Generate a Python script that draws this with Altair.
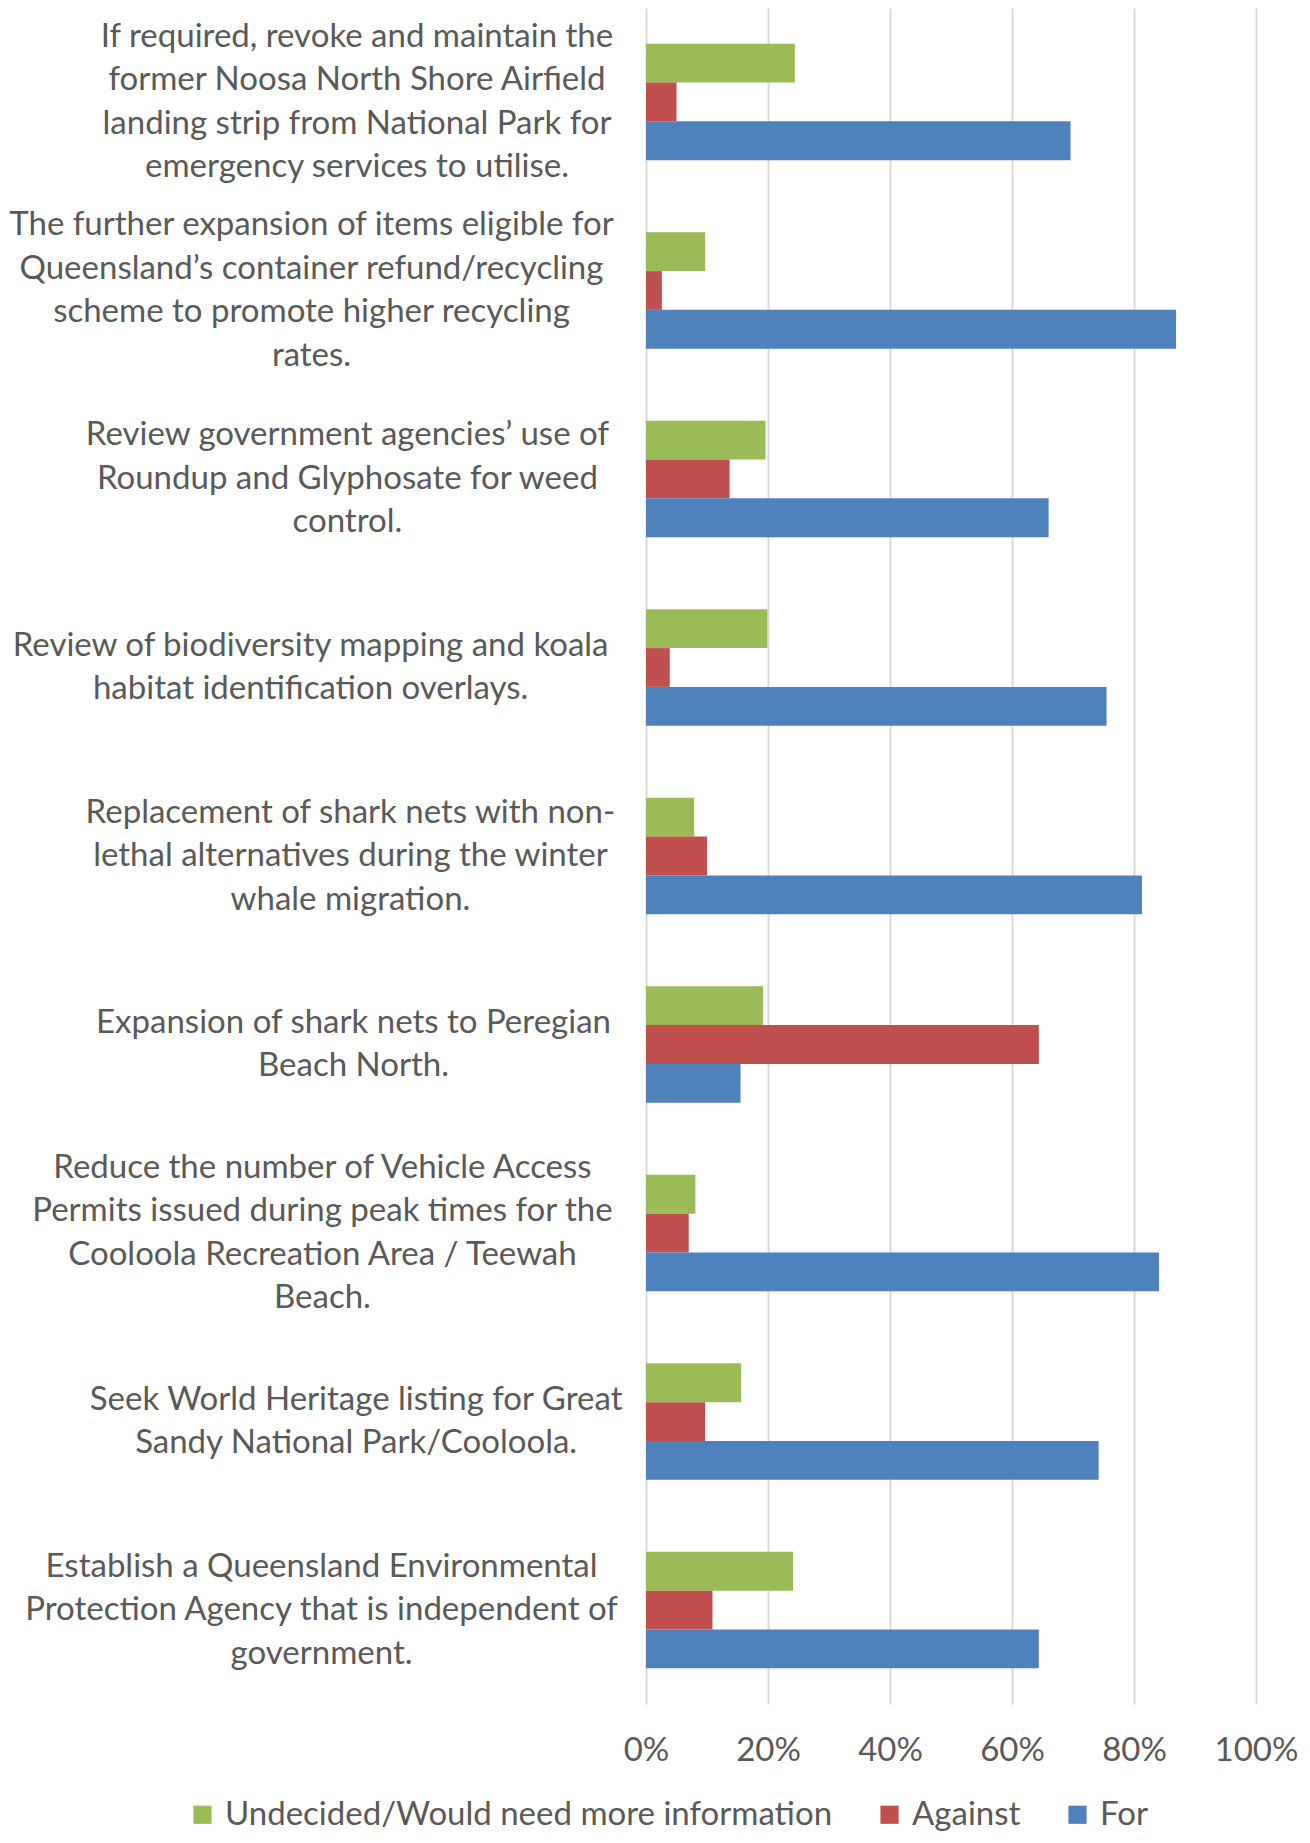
import altair as alt
import pandas as pd

categories = [
    "If required, revoke and maintain the|former Noosa North Shore Airfield|landing strip from National Park for|emergency services to utilise.",
    "The further expansion of items eligible for|Queensland’s container refund/recycling|scheme to promote higher recycling|rates.",
    "Review government agencies’ use of|Roundup and Glyphosate for weed|control.",
    "Review of biodiversity mapping and koala|habitat identification overlays.",
    "Replacement of shark nets with non-|lethal alternatives during the winter|whale migration.",
    "Expansion of shark nets to Peregian|Beach North.",
    "Reduce the number of Vehicle Access|Permits issued during peak times for the|Cooloola Recreation Area / Teewah|Beach.",
    "Seek World Heritage listing for Great|Sandy National Park/Cooloola.",
    "Establish a Queensland Environmental|Protection Agency that is independent of|government.",
]
series = ["Undecided/Would need more information", "Against", "For"]
undecided = [24.4, 9.7, 19.6, 19.9, 7.9, 19.2, 8.1, 15.6, 24.1]
against = [5.0, 2.6, 13.7, 3.9, 10.0, 64.4, 7.0, 9.7, 10.9]
for_vals = [69.6, 86.9, 66.0, 75.5, 81.3, 15.5, 84.1, 74.2, 64.4]
colors = ["#9BBB59", "#C0504D", "#4F81BD"]
x_ticks = [0, 0.2, 0.4, 0.6, 0.8, 1.0]

rows = []
for i, c in enumerate(categories):
    for s, vals in zip(series, [undecided, against, for_vals]):
        rows.append({"category": c, "series": s, "value": vals[i] / 100})
df = pd.DataFrame(rows)

FONT = "Lato"
GREY = "#595959"
FS = 33
LH = 43.5


def line_units(idx):
    # approximate visual length of one wrapped line (narrow glyphs count less)
    s = f"(split(datum.label, '|')[{idx}] || '')"
    return (
        f"(length({s}) - 0.45 * length(replace({s}, /[^ilftrjI ,.’'\\-\\/]/g, ''))"
        f" + 0.4 * length(replace({s}, /[^mwMW]/g, '')))"
    )


# each wrapped label block is centred, its widest line ending ~34px left of the axis
pad_expr = "34 + 8.75 * max(" + ", ".join(line_units(i) for i in range(4)) + ")"

chart = alt.Chart(df).mark_bar().encode(
    x=alt.X(
        "value:Q",
        scale=alt.Scale(domain=[0, 1], nice=False),
        axis=alt.Axis(
            values=x_ticks, format=".0%", grid=True, gridColor="#D9D9D9",
            gridWidth=2, domain=False, ticks=False, labelFontSize=FS,
            labelColor=GREY, labelFont=FONT, labelPadding=30, title=None,
            labelFlush=False,
        ),
    ),
    y=alt.Y(
        "category:N",
        sort=categories,
        scale=alt.Scale(paddingInner=0.383, paddingOuter=0.19),
        axis=alt.Axis(
            title=None, domain=False, ticks=False,
            labelExpr="split(datum.label, '|')",
            labelAlign="center", labelBaseline="middle",
            labelOffset={"expr": f"-(length(split(datum.label, '|')) - 1) * {LH} / 2"},
            labelPadding={"expr": pad_expr},
            labelLimit=0, labelFontSize=FS,
            labelLineHeight=LH, labelColor=GREY, labelFont=FONT,
        ),
    ),
    yOffset=alt.YOffset("series:N", sort=series,
                        scale=alt.Scale(paddingInner=0, paddingOuter=0)),
    color=alt.Color(
        "series:N",
        scale=alt.Scale(domain=series, range=colors),
        legend=alt.Legend(
            title=None, orient="none", direction="horizontal",
            legendX=-460, legendY=1790, symbolType="square", symbolSize=330,
            symbolStrokeWidth=0, labelFontSize=FS, labelFont=FONT,
            labelColor=GREY, labelOffset=6, columnPadding=40, labelLimit=0,
        ),
    ),
).properties(
    width=610,
    height=1696,
    autosize=alt.AutoSizeParams(type="none"),
    padding={"left": 638, "top": 0, "right": 46, "bottom": 131},
).configure_view(stroke=None)

chart.save("out.html", embed_options={"renderer": "svg", "actions": False})
